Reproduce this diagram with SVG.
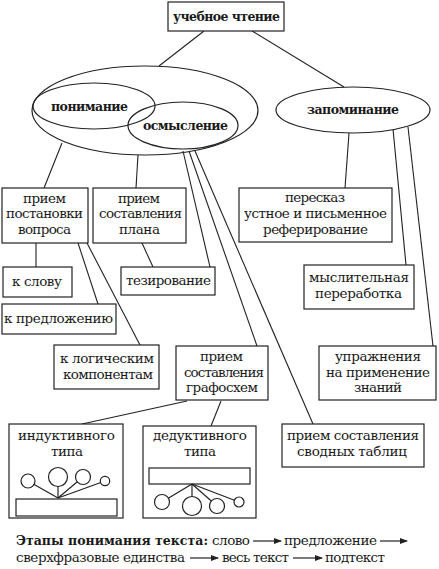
<svg xmlns="http://www.w3.org/2000/svg" width="439" height="569" viewBox="0 0 439 569">
<style>
.b{fill:#fff;stroke:#222;stroke-width:1.2}
.s{fill:none;stroke:#222;stroke-width:1.2}
.c line,.c path{stroke:#222;stroke-width:1.1;fill:none}
text{font-family:"DejaVu Serif","Liberation Serif",serif;font-size:13.5px;fill:#1a1a1a;text-anchor:start}
.bd{font-weight:bold;font-size:12.5px}
</style>
<defs>
<marker id="a" markerWidth="8" markerHeight="6" refX="7" refY="3" orient="auto" markerUnits="userSpaceOnUse">
<path d="M0,0 L8,3 L0,6 z" fill="#222"/>
</marker>
</defs>
<rect width="439" height="569" fill="#fff"/>
<g class="c" id="connectors">
<line x1="204" y1="31" x2="159" y2="66"/>
<line x1="252" y1="31" x2="344" y2="87"/>
<line x1="62" y1="143" x2="44" y2="188"/>
<line x1="138" y1="155" x2="136" y2="188"/>
<line x1="183" y1="151" x2="210" y2="267"/>
<line x1="189" y1="151" x2="257" y2="346"/>
<line x1="195" y1="151" x2="313" y2="424"/>
<line x1="349" y1="133" x2="345" y2="188"/>
<line x1="393" y1="129" x2="406" y2="265"/>
<line x1="408" y1="127" x2="433" y2="346"/>
<line x1="36" y1="243" x2="36" y2="267"/>
<line x1="142" y1="243" x2="153" y2="267"/>
<line x1="78" y1="243" x2="98" y2="304"/>
<line x1="87" y1="243" x2="140" y2="345"/>
<line x1="187" y1="401" x2="82" y2="424"/>
<line x1="221" y1="401" x2="211" y2="426"/>
</g>
<g id="n-top"><rect class="b" x="168" y="2" width="116" height="29"/><text class="bd" x="173" y="21" textLength="107" lengthAdjust="spacing">учебное чтение</text></g>
<g id="n-big"><ellipse class="s" cx="145" cy="110.5" rx="113" ry="44.5"/></g>
<g id="n-ponim"><ellipse class="s" cx="94" cy="106" rx="61" ry="23"/><text class="bd" x="51" y="111" textLength="77" lengthAdjust="spacing">понимание</text></g>
<g id="n-osm"><ellipse class="s" cx="183" cy="125.5" rx="55" ry="23.5"/><text class="bd" x="143" y="130" textLength="85" lengthAdjust="spacing">осмысление</text></g>
<g id="n-zap"><ellipse class="b" cx="353" cy="110" rx="77" ry="23"/><text class="bd" x="307" y="114" textLength="92" lengthAdjust="spacing">запоминание</text></g>
<g id="n-vopr"><rect class="b" x="2" y="188" width="86" height="55"/>
<text x="23" y="203" textLength="43" lengthAdjust="spacing">прием</text>
<text x="6" y="218" textLength="77" lengthAdjust="spacing">постановки</text>
<text x="18" y="234" textLength="53" lengthAdjust="spacing">вопроса</text></g>
<g id="n-plan"><rect class="b" x="93" y="188" width="93" height="55"/>
<text x="118" y="203" textLength="42" lengthAdjust="spacing">прием</text>
<text x="99" y="218" textLength="83" lengthAdjust="spacing">составления</text>
<text x="119" y="234" textLength="41" lengthAdjust="spacing">плана</text></g>
<g id="n-pere"><rect class="b" x="239" y="188" width="153" height="54"/>
<text x="285" y="202" textLength="60" lengthAdjust="spacing">пересказ</text>
<text x="244" y="218" textLength="143" lengthAdjust="spacing">устное и письменное</text>
<text x="263" y="234" textLength="105" lengthAdjust="spacing">реферирование</text></g>
<g id="n-slovo"><rect class="b" x="3" y="267" width="69" height="30"/><text x="12" y="286" textLength="50" lengthAdjust="spacing">к слову</text></g>
<g id="n-tez"><rect class="b" x="121" y="267" width="94" height="28"/><text x="126" y="285" textLength="85" lengthAdjust="spacing">тезирование</text></g>
<g id="n-mysl"><rect class="b" x="304" y="265" width="110" height="44"/>
<text x="309" y="282" textLength="100" lengthAdjust="spacing">мыслительная</text>
<text x="315" y="298" textLength="87" lengthAdjust="spacing">переработка</text></g>
<g id="n-pred"><rect class="b" x="2" y="304" width="114" height="30"/><text x="4" y="323" textLength="109" lengthAdjust="spacing">к предложению</text></g>
<g id="n-log"><rect class="b" x="54" y="345" width="105" height="44"/>
<text x="60" y="363" textLength="94" lengthAdjust="spacing">к логическим</text>
<text x="63" y="379" textLength="90" lengthAdjust="spacing">компонентам</text></g>
<g id="n-graf"><rect class="b" x="176" y="346" width="92" height="54"/>
<text x="200" y="361" textLength="43" lengthAdjust="spacing">прием</text>
<text x="184" y="377" textLength="80" lengthAdjust="spacing">составления</text>
<text x="186" y="392" textLength="72" lengthAdjust="spacing">графосхем</text></g>
<g id="n-upr"><rect class="b" x="319" y="346" width="117" height="54"/>
<text x="335" y="361" textLength="86" lengthAdjust="spacing">упражнения</text>
<text x="326" y="377" textLength="104" lengthAdjust="spacing">на применение</text>
<text x="354" y="392" textLength="48" lengthAdjust="spacing">знаний</text></g>
<g id="n-ind">
<rect class="b" x="9" y="424" width="114" height="94"/>
<text x="18" y="440" textLength="97" lengthAdjust="spacing">индуктивного</text>
<text x="51" y="456" textLength="32" lengthAdjust="spacing">типа</text>
<line class="s" x1="28" y1="481" x2="58" y2="498"/><line class="s" x1="58" y1="477" x2="58" y2="498"/><line class="s" x1="83" y1="477" x2="58" y2="498"/><line class="s" x1="105" y1="481" x2="58" y2="498"/>
<circle class="b" cx="28" cy="481" r="7"/><circle class="b" cx="58" cy="477" r="9.5"/><circle class="b" cx="83" cy="477" r="7.5"/><circle class="b" cx="105" cy="481" r="4.7"/>
<rect class="b" x="16" y="499" width="101" height="17"/>
</g>
<g id="n-ded">
<rect class="b" x="143" y="426" width="113" height="92"/>
<text x="153" y="440" textLength="94" lengthAdjust="spacing">дедуктивного</text>
<text x="184" y="456" textLength="32" lengthAdjust="spacing">типа</text>
<rect class="b" x="149" y="468" width="101" height="16"/>
<line class="s" x1="192" y1="484" x2="162" y2="502"/><line class="s" x1="192" y1="484" x2="192" y2="506"/><line class="s" x1="192" y1="484" x2="217" y2="506"/><line class="s" x1="192" y1="484" x2="239" y2="502"/>
<circle class="b" cx="162" cy="502" r="7.5"/><circle class="b" cx="192" cy="506" r="9.5"/><circle class="b" cx="217" cy="506" r="7.5"/><circle class="b" cx="239" cy="502" r="5"/>
</g>
<g id="n-svod"><rect class="b" x="282" y="424" width="142" height="43"/>
<text x="287" y="440" textLength="132" lengthAdjust="spacing">прием составления</text>
<text x="297" y="456" textLength="110" lengthAdjust="spacing">сводных таблиц</text></g>
<g id="footer">
<text class="bd" x="16" y="545" textLength="192" lengthAdjust="spacing">Этапы понимания  текста:</text>
<text x="212" y="545" textLength="38" lengthAdjust="spacing">слово</text>
<line class="s" x1="253" y1="541" x2="281" y2="541" marker-end="url(#a)"/>
<text x="284" y="545" textLength="93" lengthAdjust="spacing">предложение</text>
<line class="s" x1="380" y1="541" x2="407" y2="541" marker-end="url(#a)"/>
<text x="16" y="562" textLength="169" lengthAdjust="spacing">сверхфразовые единства</text>
<line class="s" x1="190" y1="558" x2="218" y2="558" marker-end="url(#a)"/>
<text x="222" y="562" textLength="67" lengthAdjust="spacing">весь текст</text>
<line class="s" x1="293" y1="558" x2="322" y2="558" marker-end="url(#a)"/>
<text x="325" y="562" textLength="60" lengthAdjust="spacing">подтекст</text>
</g>
</svg>
